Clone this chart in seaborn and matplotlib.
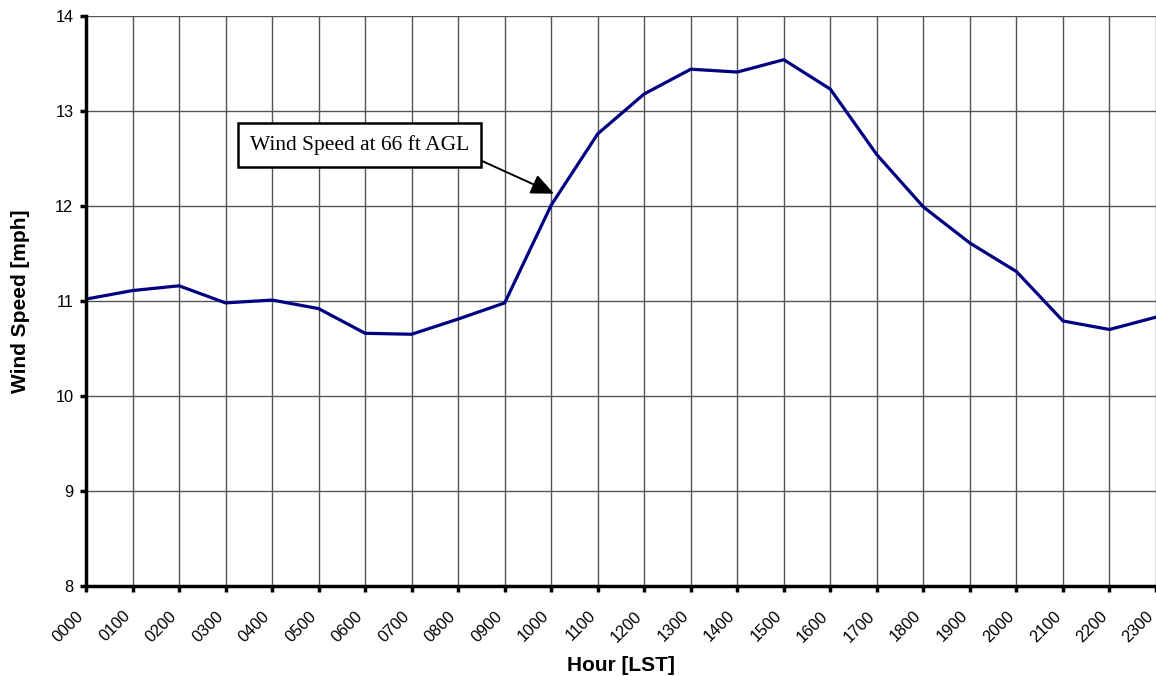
import numpy as np
import pandas as pd
import seaborn as sns
import matplotlib.pyplot as plt
from matplotlib.transforms import ScaledTranslation

# Hourly mean wind speed
hours = list(range(24))
hour_labels = ["0000", "0100", "0200", "0300", "0400", "0500", "0600", "0700",
               "0800", "0900", "1000", "1100", "1200", "1300", "1400", "1500",
               "1600", "1700", "1800", "1900", "2000", "2100", "2200", "2300"]
wind_speed = [11.02, 11.11, 11.16, 10.98, 11.01, 10.92, 10.66, 10.65,
              10.81, 10.98, 12.01, 12.76, 13.18, 13.44, 13.41, 13.54,
              13.23, 12.54, 11.99, 11.61, 11.31, 10.79, 10.70, 10.83]

data = pd.DataFrame({"hour": hours, "speed": wind_speed})

sns.set_style("white")
plt.rcParams['font.family'] = ['Liberation Sans', 'DejaVu Sans']
plt.rcParams['text.color'] = 'black'
plt.rcParams['axes.labelcolor'] = 'black'
plt.rcParams['xtick.color'] = 'black'
plt.rcParams['ytick.color'] = 'black'

fig = plt.figure(figsize=(11.56, 6.76), dpi=100)
ax = fig.add_axes([86 / 1156, 1 - 586 / 676, 1 - 86 / 1156, (586 - 16) / 676])

sns.lineplot(data=data, x="hour", y="speed", color="#000080", linewidth=2.3, ax=ax)

ax.set_xlim(0, 23)
ax.set_ylim(8, 14)
ax.set_xticks(hours)
ax.set_xticklabels(hour_labels, rotation=45, ha='right', rotation_mode='anchor', fontsize=11.8)
ax.set_yticks(range(8, 15))
ax.tick_params(axis='y', labelsize=11.8, pad=5)
ax.tick_params(axis='both', direction='out', length=4, width=2.5, color='black',
               bottom=True, left=True)
ax.tick_params(axis='x', pad=12)

# nudge x tick labels left so the last one stays inside the figure
shift = ScaledTranslation(-10 / 100, 0, fig.dpi_scale_trans)
for lbl in ax.get_xticklabels():
    lbl.set_transform(lbl.get_transform() + shift)

ax.grid(True, color='#555555', linewidth=1.0)
ax.set_axisbelow(True)

for side in ['top', 'right']:
    ax.spines[side].set_visible(False)
for side in ['left', 'bottom']:
    ax.spines[side].set_linewidth(2.5)
    ax.spines[side].set_color('black')

ax.set_xlabel("Hour [LST]", fontsize=15, fontweight='bold', labelpad=8)
ax.set_ylabel("Wind Speed [mph]", fontsize=15, fontweight='bold', labelpad=18)

ax.annotate("Wind Speed at 66 ft AGL", xy=(10.06, 12.13), xytext=(5.88, 12.64),
            fontsize=15.5, family=['Liberation Serif', 'DejaVu Serif'],
            ha='center', va='center',
            bbox=dict(boxstyle='square,pad=0.55', fc='white', ec='black', lw=1.8),
            arrowprops=dict(arrowstyle='-|>,head_length=0.9,head_width=0.4', color='black',
                            lw=1.4, relpos=(1, 0), shrinkA=0, shrinkB=0))

fig.savefig("out.png", dpi=100)
